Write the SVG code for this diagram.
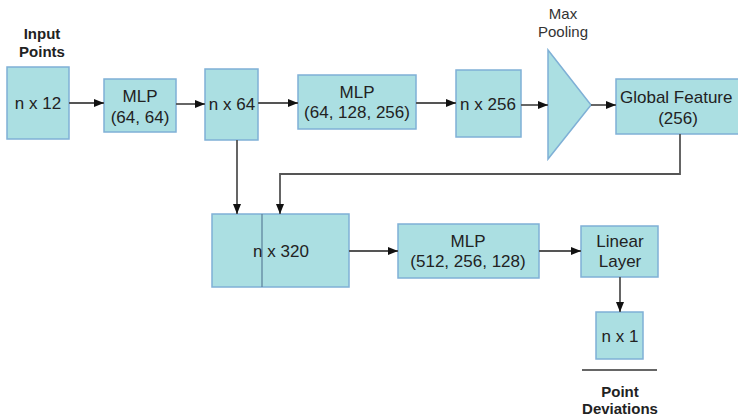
<svg xmlns="http://www.w3.org/2000/svg" width="738" height="418" viewBox="0 0 738 418">
<defs>
<style>
.box{fill:#abdfe2;stroke:#7fb0d6;stroke-width:1.5}
.t{font-family:"Liberation Sans",Arial,sans-serif;font-size:17px;fill:#222;text-anchor:middle}
.b{font-family:"Liberation Sans",Arial,sans-serif;font-size:15px;font-weight:bold;fill:#222;text-anchor:middle}
.n{font-family:"Liberation Sans",Arial,sans-serif;font-size:15px;fill:#333;text-anchor:middle}
.c{fill:none;stroke:#555;stroke-width:1.8}
</style>
<marker id="ah" viewBox="0 0 10 10" refX="10" refY="5" markerWidth="10" markerHeight="10" markerUnits="userSpaceOnUse" orient="auto">
<path d="M0,1 L10,5 L0,9 Z" fill="#111"/>
</marker>
</defs>
<rect width="738" height="418" fill="#fff"/>
<g id="input-label"><text class="b" x="42" y="39">Input</text><text class="b" x="42" y="57">Points</text></g>
<g id="n12"><rect class="box" x="7" y="67" width="62" height="72"/><text class="t" x="38" y="109">n x 12</text></g>
<g id="mlp1"><rect class="box" x="104" y="79" width="72" height="53"/><text class="t" x="140" y="102">MLP</text><text class="t" x="140" y="123">(64, 64)</text></g>
<g id="n64"><rect class="box" x="205" y="69" width="53" height="71"/><text class="t" x="232" y="110">n x 64</text></g>
<g id="mlp2"><rect class="box" x="298" y="75" width="118" height="54"/><text class="t" x="357" y="98">MLP</text><text class="t" x="357" y="118">(64, 128, 256)</text></g>
<g id="n256"><rect class="box" x="456" y="70" width="65" height="67"/><text class="t" x="488" y="110">n x 256</text></g>
<g id="maxpool"><text class="n" x="563" y="19">Max</text><text class="n" x="563" y="37">Pooling</text><polygon class="box" points="548,50 591,105 548,159"/></g>
<g id="global"><rect class="box" x="616" y="79" width="126" height="55"/><text class="t" x="620" y="103" style="text-anchor:start">Global Feature</text><text class="t" x="678" y="124">(256)</text></g>
<g id="n320"><rect class="box" x="212" y="214" width="137" height="73"/><line x1="262" y1="214" x2="262" y2="287" stroke="#5a7f99" stroke-width="1.2"/><text class="t" x="281" y="257">n x 320</text></g>
<g id="mlp3"><rect class="box" x="398" y="224" width="141" height="54"/><text class="t" x="468" y="247">MLP</text><text class="t" x="468" y="267">(512, 256, 128)</text></g>
<g id="linear"><rect class="box" x="581" y="226" width="77" height="51"/><text class="t" x="620" y="247">Linear</text><text class="t" x="620" y="267">Layer</text></g>
<g id="n1"><rect class="box" x="596" y="312" width="47" height="47"/><text class="t" x="620" y="342">n x 1</text></g>
<g id="output-label"><line x1="582" y1="370" x2="657" y2="370" stroke="#666" stroke-width="2"/><text class="b" x="620" y="397">Point</text><text class="b" x="620" y="414">Deviations</text></g>
<g id="connectors">
<line class="c" x1="69" y1="103" x2="104" y2="103" marker-end="url(#ah)"/>
<line class="c" x1="176" y1="104" x2="205" y2="104" marker-end="url(#ah)"/>
<line class="c" x1="258" y1="103" x2="298" y2="103" marker-end="url(#ah)"/>
<line class="c" x1="416" y1="103" x2="456" y2="103" marker-end="url(#ah)"/>
<line class="c" x1="521" y1="105" x2="548" y2="105" marker-end="url(#ah)"/>
<line class="c" x1="591" y1="105" x2="616" y2="105" marker-end="url(#ah)"/>
<line class="c" x1="237" y1="140" x2="237" y2="214" marker-end="url(#ah)"/>
<polyline class="c" points="680,134 680,174 280,174 280,214" marker-end="url(#ah)"/>
<line class="c" x1="349" y1="251" x2="398" y2="251" marker-end="url(#ah)"/>
<line class="c" x1="539" y1="251" x2="581" y2="251" marker-end="url(#ah)"/>
<line class="c" x1="620" y1="277" x2="620" y2="312" marker-end="url(#ah)"/>
</g>
</svg>
